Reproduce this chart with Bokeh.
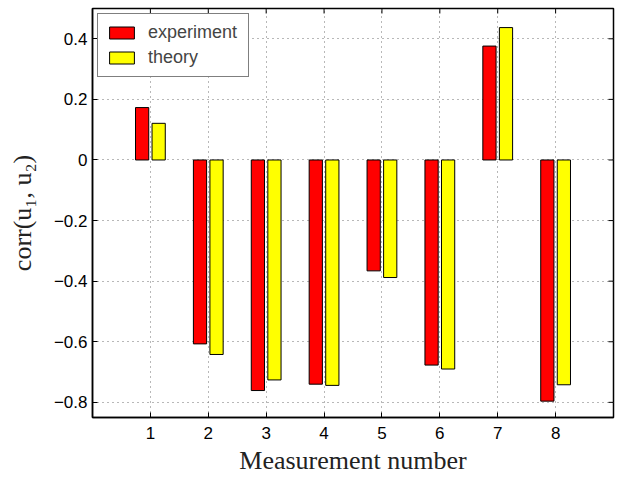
from bokeh.plotting import figure
from bokeh.models import Range1d, FixedTicker, Legend, LegendItem
from bokeh.embed import file_html
from bokeh.resources import INLINE

measurements = [1, 2, 3, 4, 5, 6, 7, 8]
experiment = [0.173, -0.607, -0.761, -0.740, -0.366, -0.677, 0.376, -0.796]
theory = [0.121, -0.642, -0.726, -0.744, -0.388, -0.690, 0.437, -0.742]
x_ticks = [1, 2, 3, 4, 5, 6, 7, 8]
y_ticks = [-0.8, -0.6, -0.4, -0.2, 0, 0.2, 0.4]
y_tick_labels = ["\u22120.8", "\u22120.6", "\u22120.4", "\u22120.2", "0", "0.2", "0.4"]
series_names = ["experiment", "theory"]
series_colors = ["#ff0000", "#ffff00"]
x_lim = (0, 9)
y_lim = (-0.85, 0.5)

group_width = 2 / 3.5
offset = group_width / 4
bar_w = group_width / 2 * 0.8

p = figure(width=622, height=477, output_backend="svg", toolbar_location=None,
           x_range=Range1d(*x_lim), y_range=Range1d(*y_lim),
           min_border_left=92, min_border_right=9, min_border_top=8, min_border_bottom=59)
p.outline_line_color = "black"
p.outline_line_width = 1.5

r1 = p.vbar(x=[m - offset for m in measurements], top=experiment, bottom=0, width=bar_w,
            fill_color=series_colors[0], line_color="black", line_width=1)
r2 = p.vbar(x=[m + offset for m in measurements], top=theory, bottom=0, width=bar_w,
            fill_color=series_colors[1], line_color="black", line_width=1)

# inner ticks on the top and right frame edges (box on)
p.scatter(x=x_ticks, y=[y_lim[1]] * len(x_ticks), marker="dash", size=10, angle=1.5708,
          line_color="black", line_width=1)
p.scatter(x=[x_lim[1]] * len(y_ticks), y=y_ticks, marker="dash", size=10,
          line_color="black", line_width=1)

label_font = "Liberation Sans"
for ax in p.xaxis:
    ax.ticker = FixedTicker(ticks=x_ticks)
    ax.axis_label = "Measurement number"
    ax.axis_label_standoff = 4
    ax.major_label_standoff = 9
for ax in p.yaxis:
    ax.ticker = FixedTicker(ticks=y_ticks)
    ax.major_label_overrides = {v: s for v, s in zip(y_ticks, y_tick_labels)}
    ax.axis_label = "corr(u\u2081, u\u2082)"
    ax.axis_label_standoff = 14
    ax.major_label_standoff = 5

for ax in list(p.xaxis) + list(p.yaxis):
    ax.major_tick_in = 5
    ax.major_tick_out = 0
    ax.minor_tick_in = 0
    ax.minor_tick_out = 0
    ax.axis_line_width = 1.5
    ax.major_tick_line_width = 1
    ax.major_label_text_font = label_font
    ax.major_label_text_font_size = "17px"
    ax.major_label_text_color = "black"
    ax.axis_label_text_font = "Liberation Serif"
    ax.axis_label_text_font_size = "26px"
    ax.axis_label_text_font_style = "normal"
    ax.axis_label_text_color = "#222222"

for g in (p.xgrid, p.ygrid):
    g.grid_line_color = "#707070"
    g.grid_line_dash = "1 4"
    g.grid_line_width = 1
p.xgrid.ticker = FixedTicker(ticks=x_ticks)
p.ygrid.ticker = FixedTicker(ticks=y_ticks)

legend = Legend(items=[LegendItem(label=series_names[0], renderers=[r1]),
                       LegendItem(label=series_names[1], renderers=[r2])],
                location="top_left", margin=5, padding=8, spacing=4,
                glyph_width=31, glyph_height=15, label_standoff=11,
                label_text_font=label_font, label_text_font_size="18px",
                label_height=15, label_width=92,
                border_line_color="black", border_line_width=1,
                background_fill_alpha=1)
p.add_layout(legend, "center")

open("out.html", "w").write(file_html(p, INLINE))
